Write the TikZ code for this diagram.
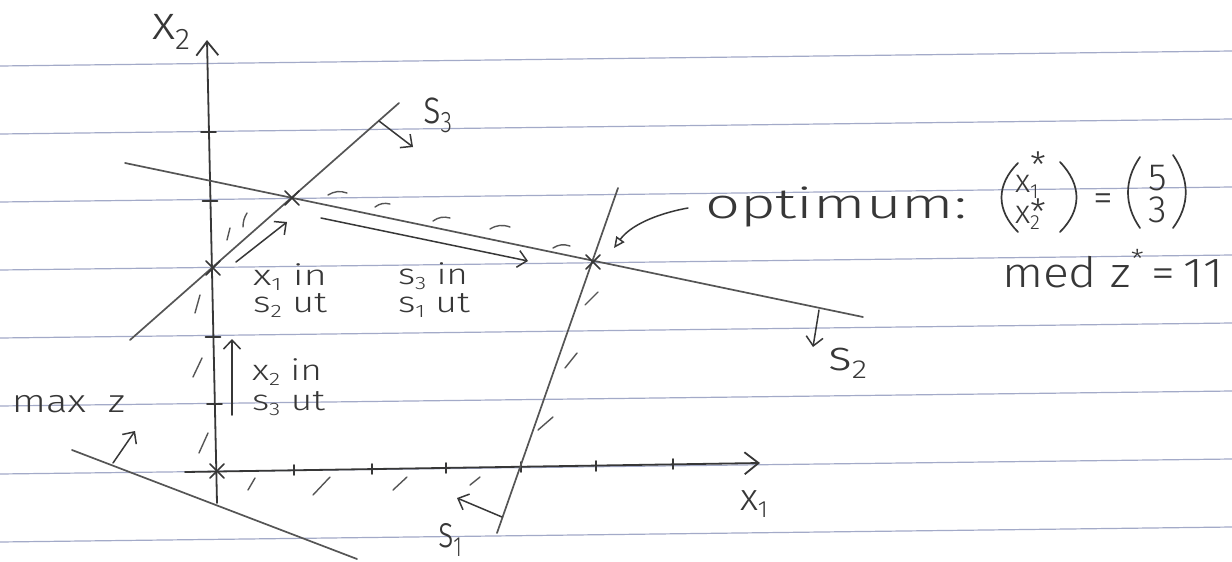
\documentclass[tikz,border=0pt]{standalone}
\usepackage{fontspec}
\setmainfont{Fira Sans Light}
\usetikzlibrary{arrows.meta,shapes.misc}
\definecolor{rulec}{RGB}{163,170,200}
\definecolor{ink}{RGB}{55,55,55}
\definecolor{pen}{RGB}{85,85,85}
\newcommand\hsub[1]{\raisebox{-0.2em}{\scalebox{0.62}{#1}}}
\newcommand\hsup[1]{\raisebox{0.45em}{\scalebox{0.62}{#1}}}
\newcommand\hstar[1]{\raisebox{#1}{\scalebox{1.1}{*}}}
\newcommand\fitw[2]{\resizebox{#1}{\height}{#2}}
\newcommand\hfs[1]{\fontsize{#1}{#1}\selectfont}
\newcommand\twolines[3]{\vtop{\baselineskip=#1\lineskiplimit=-100pt\hbox{#2}\hbox{#3}}}
\begin{document}
\begin{tikzpicture}[x=1pt,y=-1pt, line cap=round, line join=round,
  every node/.style={inner sep=0pt, outer sep=0pt},
  lab/.style={text=ink, anchor=base west},
  ruleline/.style={draw=rulec, line width=1.2pt},
  axisline/.style={draw=ink, line width=1.8pt},
  conline/.style={draw=pen, line width=1.7pt},
  hatch/.style={draw=pen, line width=1.4pt},
  tickmark/.style={draw=ink, line width=1.6pt},
  vtx/.style={cross out, draw=ink, line width=1.5pt, minimum size=14pt},
  pivot/.style={draw=ink, line width=1.5pt, -{Straight Barb[length=9pt,width=17pt]}},
  axarrow/.style={-{Straight Barb[length=14pt,width=22pt]}},
  paren/.style={draw=ink, line width=1.7pt}
]
\useasboundingbox (0,0) rectangle (1232,562);
\fill[white] (0,0) rectangle (1232,562);
% ruled paper
\foreach \k in {0,...,7} { \draw[ruleline] (0,{66+68*\k}) -- (1232,{51+68*\k}); }

% coordinates
\coordinate (x1s) at (185,472); \coordinate (x1e) at (760,463);
\coordinate (x2s) at (217,503); \coordinate (x2e) at (207,40);
\coordinate (s3a) at (130,340); \coordinate (s3b) at (399,103);
\coordinate (s2a) at (125,163); \coordinate (s2b) at (863,317);
\coordinate (s1a) at (497,533); \coordinate (s1b) at (618,188);
\coordinate (zA) at (72,450);   \coordinate (zB) at (357,559);

% axes
\draw[axisline, axarrow] (x1s) -- (x1e);
\draw[axisline, axarrow] (x2s) -- (x2e);
% ticks
\foreach \x/\y in {294/470,372/469,446/468,521/467,596/466,673/464}
  \draw[tickmark] (\x,\y-5) -- (\x,\y+5);
\foreach \x/\y in {215/404,213.5/337,210.5/201,209/132}
  \draw[tickmark] (\x-8,\y) -- (\x+7,\y);

% constraint lines
\draw[conline] (s3a) -- (s3b);
\draw[conline] (s2a) -- (s2b);
\draw[conline] (s1a) -- (s1b);
\draw[conline] (zA) -- (zB);

% vertices
\node[vtx] (O) at (217,471) {};
\node[vtx] (A) at (213,268) {};
\node[vtx] (B) at (292,198) {};
\node[vtx] (C) at (593,262) {};

% hatching (outside of feasible region)
\draw[hatch] (195,313) -- (200,295);
\draw[hatch] (193,377) -- (202,358);
\draw[hatch] (199,453) -- (208,433);
\draw[hatch] (227,240) -- (230,228);
\draw[hatch] (243,227) to[bend left=15] (247,213);
\draw[hatch] (328,195) to[bend left=25] (347,193);
\draw[hatch] (375,207) to[bend left=25] (390,204);
\draw[hatch] (433,221) to[bend left=25] (450,218);
\draw[hatch] (490,229) to[bend left=25] (510,227);
\draw[hatch] (553,248) to[bend left=25] (570,246);
\draw[hatch] (585,305) -- (598,292);
\draw[hatch] (565,368) -- (577,353);
\draw[hatch] (538,430) -- (553,417);
\draw[hatch] (248,490) -- (255,478);
\draw[hatch] (313,495) -- (330,477);
\draw[hatch] (393,490) -- (407,477);
\draw[hatch] (470,485) -- (480,477);

% slack direction arrows
\coordinate (a3s) at (379,121); \coordinate (a3e) at (413,147);
\coordinate (a2s) at (819,310); \coordinate (a2e) at (813,347);
\coordinate (a1s) at (502,517); \coordinate (a1e) at (457,498);
\coordinate (azs) at (113,463); \coordinate (aze) at (135,431);
\draw[pivot] (a3s) -- (a3e);
\draw[pivot] (a2s) -- (a2e);
\draw[pivot] (a1s) -- (a1e);
\draw[pivot] (azs) -- (aze);

% pivot path arrows
\coordinate (p1s) at (232,415); \coordinate (p1e) at (232,339);
\coordinate (p2s) at (236,262); \coordinate (p2e) at (287,222);
\coordinate (p3s) at (321,218); \coordinate (p3e) at (528,261);
\draw[pivot] (p1s) -- (p1e);
\draw[pivot] (p2s) -- (p2e);
\draw[pivot] (p3s) -- (p3e);

% labels
\node[lab, font=\hfs{48}] (x2lab) at (152,40) {\fitw{38pt}{x\hsub{2}}};
\node[lab, font=\hfs{38}] (x1lab) at (740,510) {\fitw{28pt}{x\hsub{1}}};
\node[lab, font=\hfs{48}] (s3lab) at (423,123) {\fitw{29pt}{s\hsub{3}}};
\node[lab, font=\hfs{42}] (s2lab) at (828,370) {\fitw{39pt}{s\hsub{2}}};
\node[lab, font=\hfs{45}] (s1lab) at (438,547) {\fitw{24pt}{s\hsub{1}}};
\node[lab, font=\hfs{32}] (maxz) at (12,412) {\fitw{113pt}{max\ \ z}};
\node[lab, font=\hfs{29}] (t1) at (253,285)
  {\twolines{27pt}{\fitw{74pt}{x\hsub{1} in}}{\fitw{74pt}{s\hsub{2} ut}}};
\node[lab, font=\hfs{29}] (t2) at (398,284)
  {\twolines{28pt}{\fitw{70pt}{s\hsub{3} in}}{\fitw{72pt}{s\hsub{1} ut}}};
\node[lab, font=\hfs{29}] (t3) at (252,380)
  {\twolines{30pt}{\fitw{70pt}{x\hsub{2} in}}{\fitw{73pt}{s\hsub{3} ut}}};

% optimum annotation
\node[lab, font=\hfs{42}] (opt) at (705,218) {\fitw{262pt}{optimum:}};
\node[lab, font=\hfs{33}] (mx) at (1015,192)
  {\twolines{31pt}{x\rlap{\hstar{0.42em}}\hsub{1}}{x\rlap{\hstar{-0.08em}}\hsub{2}}};
\node[font=\hfs{40}, anchor=base, text=ink] (eq) at (1103,211) {=};
\node[font=\hfs{38}, anchor=base, text=ink] (nv) at (1158,190)
  {\twolines{32pt}{5}{3}};
\draw[paren] (1018,163) .. controls (996,185) and (996,210) .. (1018,232);
\draw[paren] (1060,162) .. controls (1082,185) and (1082,210) .. (1060,232);
\draw[paren] (1140,157) .. controls (1124,180) and (1124,205) .. (1140,228);
\draw[paren] (1173,155) .. controls (1190,180) and (1190,205) .. (1173,228);
\node[lab, font=\hfs{42}] (med) at (1002,287) {\fitw{221pt}{med z\hsup{*}\,=\,11}};

\coordinate (optS) at (688,208); \coordinate (optT) at (614,248);
\draw[draw=ink, line width=1.5pt, -{Triangle[open,length=11pt,width=10pt]}]
  (optS) .. controls (655,214) and (630,226) .. (optT);
\end{tikzpicture}
\end{document}
